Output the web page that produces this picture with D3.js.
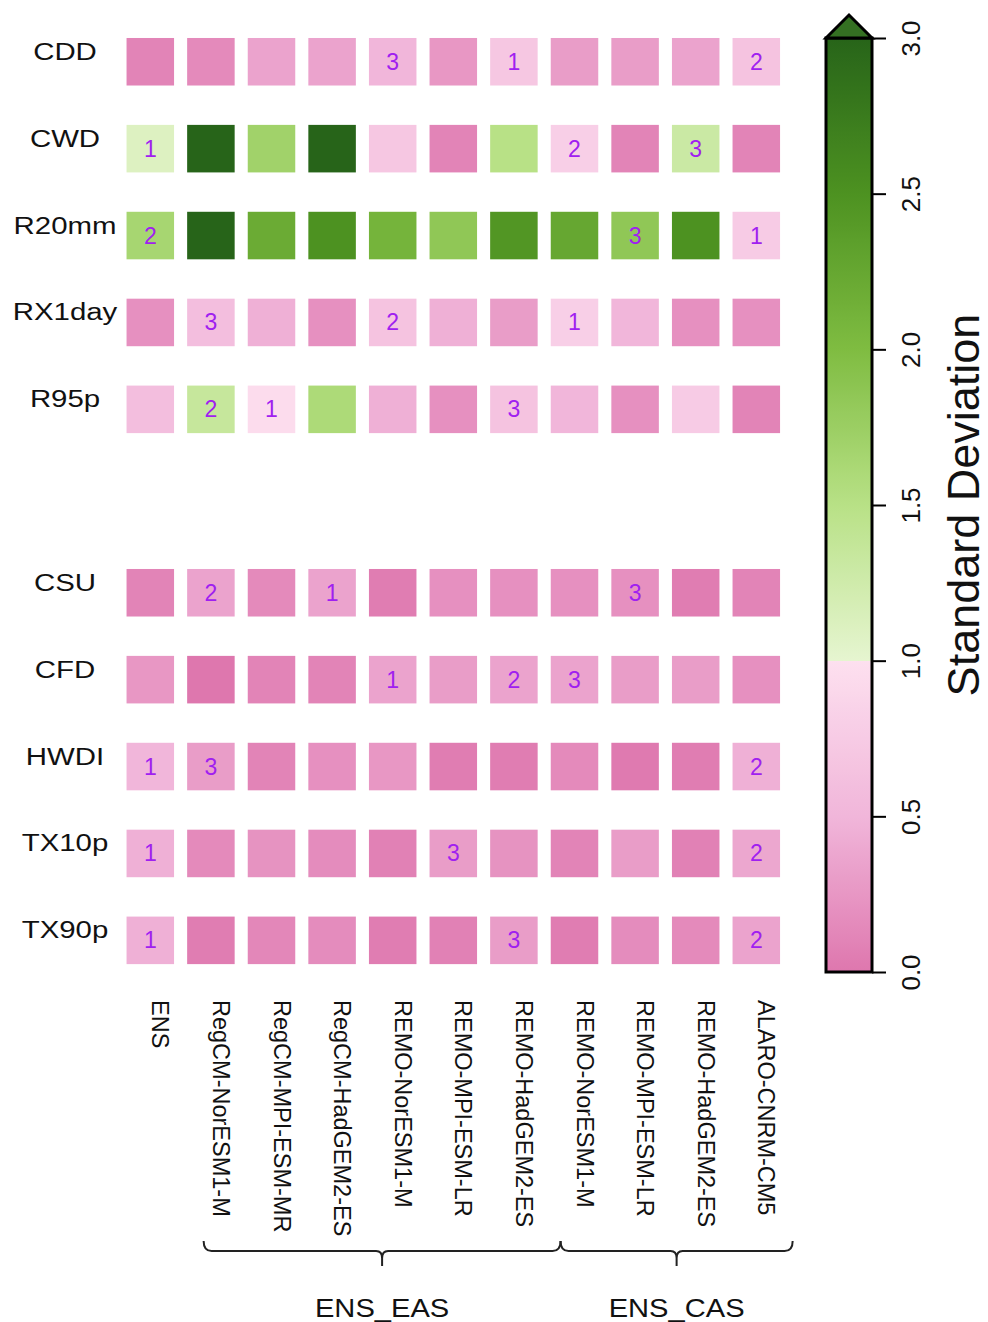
<!DOCTYPE html>
<html><head><meta charset="utf-8">
<script src="https://cdn.jsdelivr.net/npm/d3@7"></script>
<style>
body{margin:0;background:#fff}
svg{display:block}
text{font-family:"Liberation Sans",Arial,Helvetica,sans-serif}
</style>
</head><body>
<svg id="chart" width="988" height="1322"></svg>
<script>
// ---- data ----
const models = ["ENS","RegCM-NorESM1-M","RegCM-MPI-ESM-MR","RegCM-HadGEM2-ES","REMO-NorESM1-M","REMO-MPI-ESM-LR","REMO-HadGEM2-ES","REMO-NorESM1-M","REMO-MPI-ESM-LR","REMO-HadGEM2-ES","ALARO-CNRM-CM5"];
const indicesTop = ["CDD","CWD","R20mm","RX1day","R95p"];
const indicesBottom = ["CSU","CFD","HWDI","TX10p","TX90p"];

const sdCDD    = [0.1,0.15,0.35,0.35,0.5,0.25,0.7,0.3,0.3,0.35,0.65];
const sdCWD    = [1.1,3.0,1.7,3.0,0.7,0.1,1.5,0.8,0.1,1.3,0.1];
const sdR20mm  = [1.65,3.0,2.2,2.5,2.1,1.85,2.45,2.25,1.85,2.5,0.75];
const sdRX1day = [0.2,0.6,0.45,0.2,0.65,0.45,0.3,0.8,0.5,0.2,0.2];
const sdR95p   = [0.6,1.35,0.95,1.6,0.45,0.2,0.65,0.5,0.2,0.75,0.1];
const sdCSU    = [0.1,0.35,0.15,0.35,0.05,0.2,0.2,0.2,0.2,0.05,0.1];
const sdCFD    = [0.25,0.0,0.1,0.1,0.35,0.3,0.35,0.35,0.3,0.3,0.2];
const sdHWDI   = [0.5,0.3,0.1,0.2,0.25,0.05,0.05,0.15,0.02,0.05,0.45];
const sdTX10p  = [0.45,0.15,0.22,0.17,0.08,0.3,0.22,0.1,0.3,0.08,0.38];
const sdTX90p  = [0.45,0.05,0.13,0.17,0.05,0.08,0.3,0.05,0.17,0.15,0.35];

// rank labels (0 = none)
const rankCDD    = [0,0,0,0,3,0,1,0,0,0,2];
const rankCWD    = [1,0,0,0,0,0,0,2,0,3,0];
const rankR20mm  = [2,0,0,0,0,0,0,0,3,0,1];
const rankRX1day = [0,3,0,0,2,0,0,1,0,0,0];
const rankR95p   = [0,2,1,0,0,0,3,0,0,0,0];
const rankCSU    = [0,2,0,1,0,0,0,0,3,0,0];
const rankCFD    = [0,0,0,0,1,0,2,3,0,0,0];
const rankHWDI   = [1,3,0,0,0,0,0,0,0,0,2];
const rankTX10p  = [1,0,0,0,0,3,0,0,0,0,2];
const rankTX90p  = [1,0,0,0,0,0,3,0,0,0,2];

const colorbarTicks = [0,0.5,1,1.5,2,2.5,3];
const groups = [
  {name:"ENS_EAS", from:0.88, to:6.77},
  {name:"ENS_CAS", from:6.77, to:10.6}
];

const sdRows = [sdCDD,sdCWD,sdR20mm,sdRX1day,sdR95p,sdCSU,sdCFD,sdHWDI,sdTX10p,sdTX90p];
const rankRows = [rankCDD,rankCWD,rankR20mm,rankRX1day,rankR95p,rankCSU,rankCFD,rankHWDI,rankTX10p,rankTX90p];
const indices = indicesTop.concat(indicesBottom);

// ---- scales ----
const svg = d3.select("#chart");
svg.append("rect").attr("width",988).attr("height",1322).attr("fill","#fff");

const colKeys = models.map((m,i)=>i);
const x = d3.scaleBand().domain(colKeys).range([120, 120+11*60.6]).paddingInner(0.216).paddingOuter(0.108);
const step = 86.9;
const y = d3.scaleBand().domain(indices).range([18.3, 18.3+10*step]).paddingInner(0.453).paddingOuter(0.2265);
const gapExtra = 96.5;
const yPos = name => y(name) + (indicesBottom.includes(name) ? gapExtra : 0);

const pink = d3.scaleLinear().domain([0,0.5,1]).range(["#de77ae","#f1b6da","#fde0ef"]).clamp(true);
const green = d3.scaleLinear().domain([1,1.5,2,2.5,3]).range(["#e6f5d0","#b8e186","#7fbc41","#4d9221","#276419"]).clamp(true);
const color = v => v < 1 ? pink(v) : green(v);

// ---- cells ----
const cells = [];
indices.forEach((ind,r)=>{
  sdRows[r].forEach((v,c)=>cells.push({ind, c, v, rank: rankRows[r][c]}));
});

const g = svg.append("g");
g.selectAll("rect.cell").data(cells).join("rect")
  .attr("class","cell")
  .attr("x", d=>x(d.c)).attr("y", d=>yPos(d.ind))
  .attr("width", x.bandwidth()).attr("height", y.bandwidth())
  .attr("fill", d=>color(d.v));

g.selectAll("text.rank").data(cells.filter(d=>d.rank>0)).join("text")
  .attr("class","rank")
  .attr("x", d=>x(d.c)+x.bandwidth()/2)
  .attr("y", d=>yPos(d.ind)+y.bandwidth()/2+8)
  .attr("text-anchor","middle")
  .attr("font-size",23)
  .attr("fill","#a020f0")
  .text(d=>d.rank);

// row labels
svg.selectAll("text.rowlab").data(indices).join("text")
  .attr("class","rowlab")
  .attr("transform", d=>`translate(65,${yPos(d)+y.bandwidth()/2-2}) scale(1.2,1)`)
  .attr("text-anchor","middle")
  .attr("font-size",24.5)
  .attr("fill","#111")
  .text(d=>d);

// column labels
svg.selectAll("text.collab").data(colKeys).join("text")
  .attr("class","collab")
  .attr("transform", d=>`translate(${x(d)+x.bandwidth()/2+2},1000) rotate(90)`)
  .attr("text-anchor","start")
  .attr("font-size",23.5)
  .attr("fill","#111")
  .text(d=>models[d]);

// brackets
const xc = i => x(0)+x.bandwidth()/2 + i*x.step();
const yl = 1251;
groups.forEach(gr=>{
  const xa = xc(gr.from), xb = xc(gr.to), mid = (xa+xb)/2;
  const p = d3.path();
  p.moveTo(xa, yl-10);
  p.quadraticCurveTo(xa, yl, xa+8, yl);
  p.lineTo(mid-6, yl);
  p.quadraticCurveTo(mid, yl, mid, yl+7);
  p.lineTo(mid, yl+15);
  p.moveTo(mid, yl+7);
  p.quadraticCurveTo(mid, yl, mid+6, yl);
  p.lineTo(xb-8, yl);
  p.quadraticCurveTo(xb, yl, xb, yl-10);
  svg.append("path").attr("d", p.toString()).attr("fill","none").attr("stroke","#222").attr("stroke-width",2);
  svg.append("text")
    .attr("transform",`translate(${mid},1317) scale(1.12,1)`)
    .attr("text-anchor","middle").attr("font-size",26).attr("fill","#111")
    .text(gr.name);
});

// ---- colorbar ----
const cbX = 826, cbW = 46;
const yCB = d3.scaleLinear().domain([0,3]).range([972,38]);
const defs = svg.append("defs");
const grad = defs.append("linearGradient").attr("id","cbgrad")
  .attr("x1",0).attr("y1",1).attr("x2",0).attr("y2",0);
const stops = [];
for (let v=0; v<=1.0001; v+=0.05) stops.push({o:v/3, c:pink(Math.min(v,0.9999))});
for (let v=1; v<=3.0001; v+=0.05) stops.push({o:v/3, c:green(v)});
grad.selectAll("stop").data(stops).join("stop")
  .attr("offset",d=>d.o).attr("stop-color",d=>d.c);

svg.append("rect").attr("x",cbX).attr("y",yCB(3)).attr("width",cbW).attr("height",yCB(0)-yCB(3))
  .attr("fill","url(#cbgrad)").attr("stroke","#000").attr("stroke-width",3);
svg.append("path")
  .attr("d",`M${cbX},${yCB(3)} L${cbX+cbW/2},${yCB(3)-23} L${cbX+cbW},${yCB(3)} Z`)
  .attr("fill","#347022").attr("stroke","#000").attr("stroke-width",3).attr("stroke-linejoin","miter");

const axis = d3.axisRight(yCB).tickValues(colorbarTicks).tickFormat(d3.format(".1f")).tickSize(14).tickPadding(0);
const ax = svg.append("g").attr("transform",`translate(${cbX+cbW},0)`).call(axis);
ax.select(".domain").remove();
ax.selectAll(".tick line").attr("stroke","#000").attr("stroke-width",2);
ax.selectAll(".tick text")
  .attr("x",null).attr("dy",null)
  .attr("transform","translate(48,0) rotate(-90)")
  .attr("text-anchor","middle")
  .attr("font-size",26)
  .attr("fill","#111")
  .attr("font-family",'"Liberation Sans",Arial,Helvetica,sans-serif');

svg.append("text")
  .attr("transform","translate(979,505) rotate(-90)")
  .attr("text-anchor","middle").attr("font-size",45).attr("fill","#111")
  .text("Standard Deviation");
</script>
</body></html>
